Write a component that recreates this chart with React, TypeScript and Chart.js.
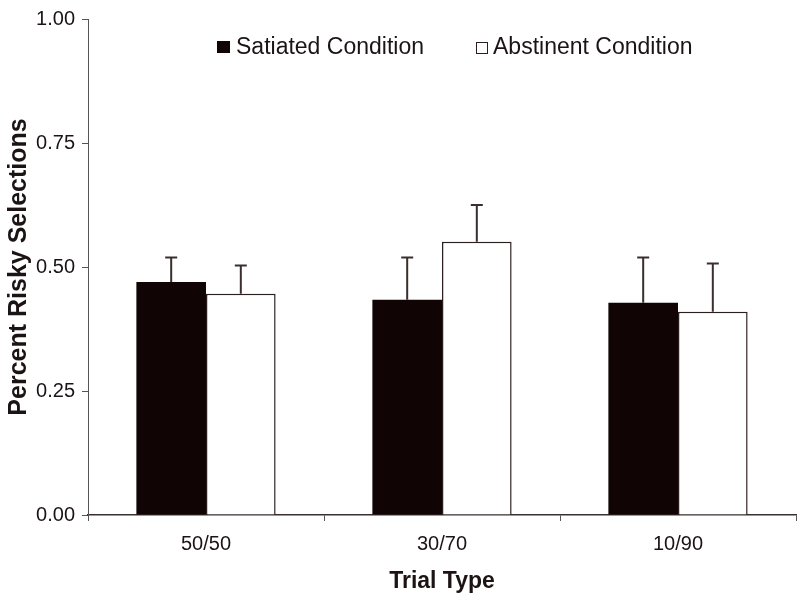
import React, { useEffect, useRef } from "react";
import { Chart, registerables } from "chart.js";

Chart.register(...registerables);

const categories = ["50/50", "30/70", "10/90"];
const seriesNames = ["Satiated Condition", "Abstinent Condition"];
const satiated = [0.47, 0.434, 0.428];
const satiatedErr = [0.049, 0.085, 0.091];
const abstinent = [0.446, 0.551, 0.41];
const abstinentErr = [0.057, 0.074, 0.097];
const yTicks = [0, 0.25, 0.5, 0.75, 1.0];

const INK = "#1c1414";
const FONT = "'Liberation Sans', Arial, Helvetica, sans-serif";

const errorBarPlugin = {
  id: "errorBars",
  afterDatasetsDraw(chart: any) {
    const ctx = chart.ctx;
    const yScale = chart.scales.y;
    chart.data.datasets.forEach((ds: any, di: number) => {
      const meta = chart.getDatasetMeta(di);
      const errs = ds.errors as number[];
      meta.data.forEach((bar: any, i: number) => {
        const v = ds.data[i];
        const top = yScale.getPixelForValue(v + errs[i]);
        const base = yScale.getPixelForValue(v);
        ctx.save();
        ctx.strokeStyle = "#3a2e2e";
        ctx.lineWidth = 2;
        ctx.beginPath();
        ctx.moveTo(bar.x, base);
        ctx.lineTo(bar.x, top);
        ctx.moveTo(bar.x - 6, top);
        ctx.lineTo(bar.x + 6, top);
        ctx.stroke();
        ctx.restore();
      });
    });
  },
};

const legendPlugin = {
  id: "customLegend",
  afterDraw(chart: any) {
    const ctx = chart.ctx;
    ctx.save();
    ctx.font = `23px ${FONT}`;
    ctx.textBaseline = "middle";
    ctx.textAlign = "left";
    ctx.fillStyle = "#100404";
    ctx.fillRect(217, 41, 13, 12);
    ctx.fillStyle = INK;
    ctx.fillText(seriesNames[0], 236, 48);
    ctx.strokeStyle = "#2a1e1e";
    ctx.lineWidth = 1;
    ctx.fillStyle = "#ffffff";
    ctx.fillRect(476.5, 42.5, 11, 11);
    ctx.strokeRect(476.5, 42.5, 11, 11);
    ctx.fillStyle = INK;
    ctx.fillText(seriesNames[1], 493, 48);
    ctx.restore();
  },
};

export default function App() {
  const canvasRef = useRef<HTMLCanvasElement | null>(null);

  useEffect(() => {
    if (!canvasRef.current) return;
    const chart = new Chart(canvasRef.current, {
      type: "bar",
      data: {
        labels: categories,
        datasets: [
          {
            label: seriesNames[0],
            data: satiated,
            errors: satiatedErr,
            backgroundColor: "#100404",
            borderColor: "#100404",
            borderWidth: 0,
            categoryPercentage: 0.59,
            barPercentage: 1.0,
          } as any,
          {
            label: seriesNames[1],
            data: abstinent,
            errors: abstinentErr,
            backgroundColor: "#ffffff",
            borderColor: "#2a1e1e",
            borderWidth: 1.5,
            categoryPercentage: 0.59,
            barPercentage: 1.0,
          } as any,
        ],
      },
      options: {
        responsive: false,
        animation: false,
        layout: { padding: { top: 13, right: 4, left: 0, bottom: 0 } },
        plugins: {
          legend: { display: false },
          tooltip: { enabled: false },
        },
        scales: {
          x: {
            offset: true,
            grid: {
              offset: true,
              drawOnChartArea: false,
              drawTicks: true,
              tickLength: 6,
              color: "#555",
            },
            border: { color: "#3a2e2e", width: 1.5 },
            ticks: {
              color: INK,
              font: { family: FONT, size: 20 },
              padding: 11,
            },
            title: {
              display: true,
              text: "Trial Type",
              color: INK,
              font: { family: FONT, size: 23, weight: "bold" },
              padding: { top: 0, bottom: 5 },
            },
            afterFit(scale: any) {
              scale.height = 85;
            },
          },
          y: {
            min: 0,
            max: 1,
            afterBuildTicks(scale: any) {
              scale.ticks = yTicks.map((v) => ({ value: v }));
            },
            grid: {
              drawOnChartArea: false,
              drawTicks: true,
              tickLength: 6,
              color: "#555",
            },
            border: { color: "#555", width: 1 },
            ticks: {
              color: INK,
              font: { family: FONT, size: 20 },
              padding: 7,
              callback: (v: any) => Number(v).toFixed(2),
            },
            title: {
              display: true,
              text: "Percent Risky Selections",
              color: INK,
              font: { family: FONT, size: 25, weight: "bold" },
              padding: { top: 4, bottom: 0 },
            },
            afterFit(scale: any) {
              scale.width = 88;
            },
          },
        },
      } as any,
      plugins: [errorBarPlugin, legendPlugin],
    });
    return () => chart.destroy();
  }, []);

  return (
    <div style={{ position: "absolute", left: 0, top: 0, width: 800, height: 600, background: "#fff" }}>
      <canvas ref={canvasRef} width={800} height={600} />
    </div>
  );
}
